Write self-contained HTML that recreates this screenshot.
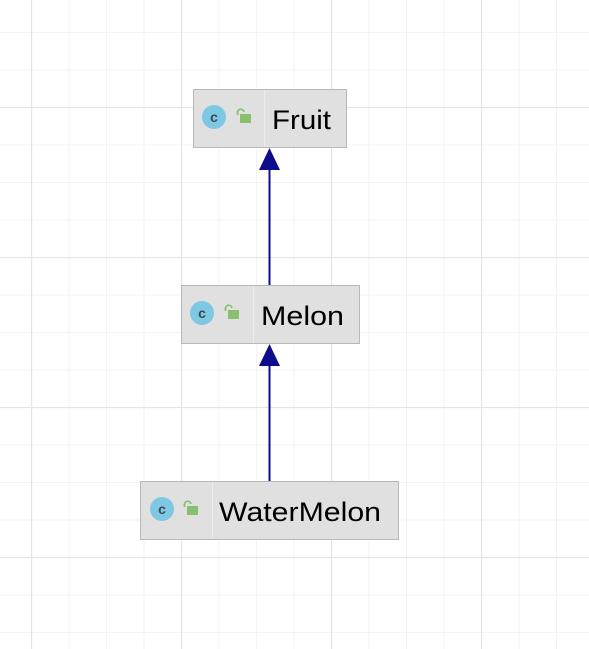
<!DOCTYPE html>
<html><head><meta charset="utf-8"><style>
html,body{margin:0;padding:0;background:#fff;}
svg{display:block;}
text{font-family:"Liberation Sans",sans-serif;}
</style></head><body>
<svg width="589" height="649" xmlns="http://www.w3.org/2000/svg">
<defs>
<pattern id="minor" x="31" y="32" width="37.5" height="37.5" patternUnits="userSpaceOnUse">
<path d="M0.5 0 V37.5 M0 0.5 H37.5" stroke="#f3f3f3" stroke-width="1" fill="none"/>
</pattern>
<pattern id="major" x="31" y="107" width="150" height="150" patternUnits="userSpaceOnUse">
<path d="M0.5 0 V150 M0 0.5 H150" stroke="#e4e4e4" stroke-width="1.3" fill="none"/>
</pattern>
</defs>
<rect width="589" height="649" fill="url(#minor)"/>
<rect width="589" height="649" fill="url(#major)"/>

<g stroke="#0c0c8c" stroke-width="2" fill="#0c0c8c">
<line x1="269.5" y1="168" x2="269.5" y2="285"/>
<polygon points="269.5,148 259,170 280,170" stroke="none"/>
<line x1="269.5" y1="364" x2="269.5" y2="481"/>
<polygon points="269.5,344 259,366 280,366" stroke="none"/>
</g>

<g>
<rect x="193.5" y="89.5" width="153" height="58" fill="#e0e0e0" stroke="#b8b8b8"/>
<line x1="264.5" y1="90" x2="264.5" y2="147" stroke="#ececec"/>
<circle cx="214" cy="117" r="12" fill="#7ec8e3"/>
<text x="214" y="122" font-size="14" font-weight="bold" fill="#3a4a55" text-anchor="middle">c</text>
<rect x="240" y="114" width="11" height="9" fill="#88c070"/>
<path d="M237.5 115 V112 A3.3 3.3 0 0 1 244 112" stroke="#88c070" stroke-width="1.8" fill="none"/>
<text x="272" y="129" font-size="27" fill="#000" textLength="59" lengthAdjust="spacingAndGlyphs">Fruit</text>
</g>

<g>
<rect x="181.5" y="285.5" width="178" height="58" fill="#e0e0e0" stroke="#b8b8b8"/>
<line x1="253.5" y1="286" x2="253.5" y2="343" stroke="#ececec"/>
<circle cx="202" cy="313" r="12" fill="#7ec8e3"/>
<text x="202" y="318" font-size="14" font-weight="bold" fill="#3a4a55" text-anchor="middle">c</text>
<rect x="228" y="310" width="11" height="9" fill="#88c070"/>
<path d="M225.5 311 V308 A3.3 3.3 0 0 1 232 308" stroke="#88c070" stroke-width="1.8" fill="none"/>
<text x="261" y="325" font-size="27" fill="#000" textLength="83" lengthAdjust="spacingAndGlyphs">Melon</text>
</g>

<g>
<rect x="140.5" y="481.5" width="258" height="58" fill="#e0e0e0" stroke="#b8b8b8"/>
<line x1="212.5" y1="482" x2="212.5" y2="539" stroke="#ececec"/>
<circle cx="162" cy="509" r="12" fill="#7ec8e3"/>
<text x="162" y="514" font-size="14" font-weight="bold" fill="#3a4a55" text-anchor="middle">c</text>
<rect x="187" y="506" width="11" height="9" fill="#88c070"/>
<path d="M184.5 507 V504 A3.3 3.3 0 0 1 191 504" stroke="#88c070" stroke-width="1.8" fill="none"/>
<text x="219" y="521" font-size="27" fill="#000" textLength="162" lengthAdjust="spacingAndGlyphs">WaterMelon</text>
</g>
</svg>
</body></html>
